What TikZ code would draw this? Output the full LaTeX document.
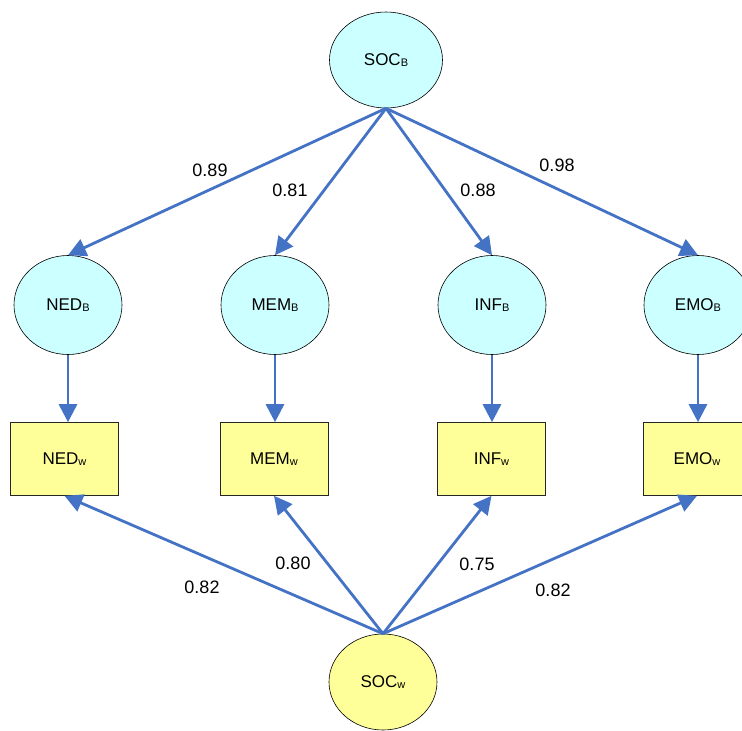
\documentclass[tikz,border=0pt]{standalone}
\usepackage{fontspec}
\setmainfont{Liberation Sans}
\usetikzlibrary{arrows.meta,shapes.geometric}
\definecolor{latfill}{HTML}{CCFFFF}
\definecolor{obsfill}{HTML}{FFFF99}
\definecolor{pathblue}{HTML}{4472C4}
\newcommand{\lsub}[1]{{\fontsize{11}{11}\selectfont\raisebox{-0.8pt}{#1}}}
\tikzset{
  latent/.style={ellipse, draw=black, line width=0.6pt, fill=latfill,
    minimum width=#1, inner sep=0pt, font=\fontsize{17}{19}\selectfont},
  latent/.default={108pt},
  observed/.style={rectangle, draw=black!85, line width=0.6pt, fill=obsfill,
    minimum width=108pt, minimum height=73pt, inner sep=0pt,
    font=\fontsize{17}{19}\selectfont},
  path/.style={draw=pathblue, line width=2.8pt,
    -{Triangle[length=18pt,width=18pt]}},
  coef/.style={font=\fontsize{18}{20}\selectfont, inner sep=0pt}
}
\begin{document}
\begin{tikzpicture}[x=1pt,y=-1pt]
\useasboundingbox (0,0) rectangle (742,731);

% between-level factor and its indicators
\node[latent, minimum height=96pt, minimum width=113pt] (socb) at (386,60) {SOC\lsub{B}};
\node[latent, minimum height=99pt] (nedb) at (68,305) {NED\lsub{B}};
\node[latent, minimum height=99pt] (memb) at (275,305) {MEM\lsub{B}};
\node[latent, minimum height=99pt] (infb) at (492,305) {INF\lsub{B}};
\node[latent, minimum height=99pt] (emob) at (698,305) {EMO\lsub{B}};

% observed scores
\node[observed] (nedw) at (64.5,459) {NED\lsub{w}};
\node[observed] (memw) at (274,459) {MEM\lsub{w}};
\node[observed] (infw) at (491.5,459) {INF\lsub{w}};
\node[observed] (emow) at (697,459) {EMO\lsub{w}};

% within-level factor
\node[latent, minimum height=96pt, fill=obsfill] (socw) at (383,682) {SOC\lsub{w}};

% loadings, between level
\draw[path] (socb.south) -- (nedb.north);
\draw[path] (socb.south) -- (memb.north);
\draw[path] (socb.south) -- (infb.north);
\draw[path] (socb.south) -- (emob.north);

% between factors to observed scores (vertical drops)
\draw[path] (nedb.south) -- (nedb.south |- nedw.north);
\draw[path] (memb.south) -- (memb.south |- memw.north);
\draw[path] (infb.south) -- (infb.south |- infw.north);
\draw[path] (emob.south) -- (emob.south |- emow.north);

% loadings, within level
\draw[path] (socw.north) -- (nedw.south);
\draw[path] (socw.north) -- (memw.south);
\draw[path] (socw.north) -- (infw.south);
\draw[path] (socw.north) -- (emow.south);

% coefficient labels
\node[coef] (c1) at (210,170) {0.89};
\node[coef] (c2) at (290,190) {0.81};
\node[coef] (c3) at (478,190) {0.88};
\node[coef] (c4) at (557,165) {0.98};
\node[coef] (c5) at (202,587) {0.82};
\node[coef] (c6) at (293,563) {0.80};
\node[coef] (c7) at (477,564) {0.75};
\node[coef] (c8) at (553,590) {0.82};
\end{tikzpicture}
\end{document}
